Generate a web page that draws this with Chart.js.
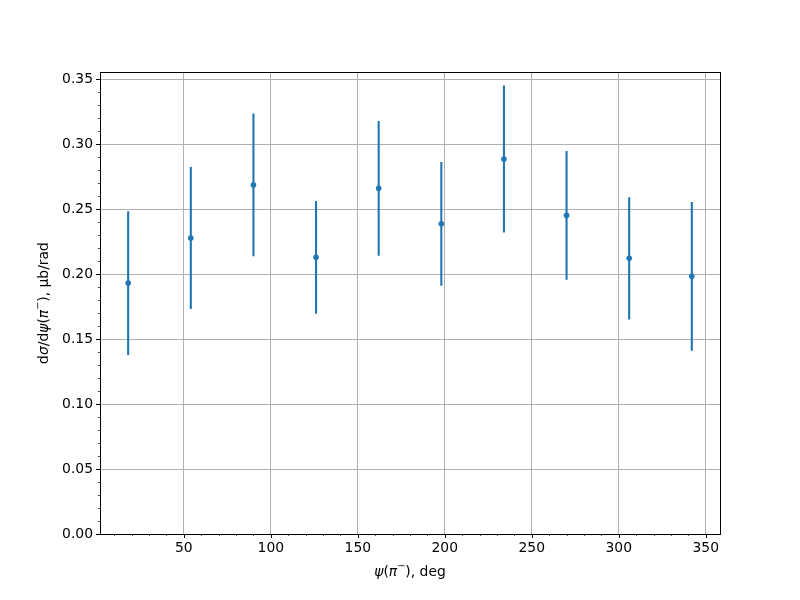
<!DOCTYPE html>
<html>
<head>
<meta charset="utf-8">
<script src="https://cdn.jsdelivr.net/npm/chart.js@4.4.0/dist/chart.umd.min.js"></script>
<style>
  body { margin: 0; background: #fff; }
  canvas { display: block; }
</style>
</head>
<body>
<canvas id="chart" width="800" height="600"></canvas>
<script>
// --- Data ---
const psi = [18, 54, 90, 126, 162, 198, 234, 270, 306, 342];
const dsigma = [0.1930, 0.2277, 0.2685, 0.2128, 0.2659, 0.2386, 0.2885, 0.2451, 0.2121, 0.1982];
const dsigmaErr = [0.0553, 0.0546, 0.0549, 0.0434, 0.0518, 0.0476, 0.0565, 0.0495, 0.0470, 0.0572];
const xMajorTicks = [50, 100, 150, 200, 250, 300, 350];
const yMajorTicks = [0.00, 0.05, 0.10, 0.15, 0.20, 0.25, 0.30, 0.35];

// axis titles as pieces: [text, style]  (style: '' roman, 'i' italic, 's' superscript)
const xTitle = [['ψ', 'i'], ['(', ''], ['π', 'i'], ['−', 's'], ['), deg', '']];
const yTitle = [['d', ''], ['σ', 'i'], ['/d', ''], ['ψ', 'i'], ['(', ''], ['π', 'i'], ['−', 's'], ['), μb/rad', '']];

const BLUE = '#1f77b4';
const GRID = '#b0b0b0';
const FONT = 'DejaVu Sans';
const FS = 13.9;

// error bar segments, separated by gaps
const errSegments = [];
psi.forEach((x, i) => {
  errSegments.push({ x: x, y: dsigma[i] - dsigmaErr[i] });
  errSegments.push({ x: x, y: dsigma[i] + dsigmaErr[i] });
  errSegments.push({ x: x, y: null });
});

const isMajorX = v => xMajorTicks.includes(Math.round(v));
const isMajorY = v => yMajorTicks.some(t => Math.abs(t - v) < 1e-9);

function pieceFont(style) {
  if (style === 'i') return 'italic ' + FS + 'px "' + FONT + '"';
  if (style === 's') return (FS * 0.7).toFixed(1) + 'px "' + FONT + '"';
  return FS + 'px "' + FONT + '"';
}

// draws a title centred on (0,0) of the current transform
function drawPieces(ctx, pieces) {
  let total = 0;
  pieces.forEach(p => { ctx.font = pieceFont(p[1]); total += ctx.measureText(p[0]).width; });
  let x = -total / 2;
  ctx.textBaseline = 'middle';
  ctx.textAlign = 'left';
  pieces.forEach(p => {
    ctx.font = pieceFont(p[1]);
    const dy = p[1] === 's' ? -FS * 0.4 : 0;
    ctx.fillText(p[0], x, dy);
    x += ctx.measureText(p[0]).width;
  });
}

// frame, major/minor tick marks and axis titles like matplotlib
const axisDecor = {
  id: 'axisDecor',
  afterDraw(chart) {
    const { ctx, chartArea: a, scales: { x, y } } = chart;
    ctx.save();
    ctx.strokeStyle = '#000';
    x.ticks.forEach(t => {
      const px = Math.round(x.getPixelForValue(t.value)) + 0.5;
      const major = isMajorX(t.value);
      ctx.lineWidth = major ? 1 : 0.7;
      ctx.beginPath();
      ctx.moveTo(px, a.bottom);
      ctx.lineTo(px, a.bottom + (major ? 4 : 2));
      ctx.stroke();
    });
    y.ticks.forEach(t => {
      const py = Math.round(y.getPixelForValue(t.value)) + 0.5;
      const major = isMajorY(t.value);
      ctx.lineWidth = major ? 1 : 0.7;
      ctx.beginPath();
      ctx.moveTo(a.left, py);
      ctx.lineTo(a.left - (major ? 4 : 2), py);
      ctx.stroke();
    });
    ctx.lineWidth = 1;
    ctx.strokeRect(Math.round(a.left) + 0.5, Math.round(a.top) + 0.5,
                   Math.round(a.right - a.left), Math.round(a.bottom - a.top));

    ctx.fillStyle = '#000';
    ctx.save();
    ctx.translate((a.left + a.right) / 2, 572);
    drawPieces(ctx, xTitle);
    ctx.restore();
    ctx.save();
    ctx.translate(44, (a.top + a.bottom) / 2);
    ctx.rotate(-Math.PI / 2);
    drawPieces(ctx, yTitle);
    ctx.restore();
    ctx.restore();
  }
};

new Chart(document.getElementById('chart'), {
  type: 'scatter',
  data: {
    datasets: [
      {
        data: psi.map((x, i) => ({ x: x, y: dsigma[i] })),
        backgroundColor: BLUE,
        borderColor: BLUE,
        pointRadius: 2.8,
        borderWidth: 0
      },
      {
        data: errSegments,
        showLine: true,
        spanGaps: false,
        borderColor: BLUE,
        borderWidth: 2.1,
        pointRadius: 0,
        borderCapStyle: 'butt'
      }
    ]
  },
  options: {
    responsive: false,
    animation: false,
    layout: { padding: { left: 0, right: 80, top: 72, bottom: 0 } },
    plugins: { legend: { display: false }, tooltip: { enabled: false } },
    scales: {
      x: {
        type: 'linear',
        min: 1.8,
        max: 358.2,
        afterBuildTicks: s => {
          const t = [];
          for (let v = 10; v <= 350; v += 10) t.push({ value: v });
          s.ticks = t;
        },
        afterFit: s => { s.height = 66; },
        border: { display: false },
        grid: {
          drawTicks: false,
          lineWidth: 1,
          color: c => (c.tick && isMajorX(c.tick.value)) ? GRID : 'rgba(0,0,0,0)'
        },
        ticks: {
          autoSkip: false,
          maxRotation: 0,
          padding: 6,
          color: '#000',
          font: { family: FONT, size: FS },
          callback: v => isMajorX(v) ? String(Math.round(v)) : ''
        }
      },
      y: {
        type: 'linear',
        min: 0,
        max: 0.3554,
        afterBuildTicks: s => {
          const t = [];
          for (let i = 0; i <= 35; i++) t.push({ value: i / 100 });
          s.ticks = t;
        },
        afterFit: s => { s.width = 100; },
        border: { display: false },
        grid: {
          drawTicks: false,
          lineWidth: 1,
          color: c => (c.tick && isMajorY(c.tick.value)) ? GRID : 'rgba(0,0,0,0)'
        },
        ticks: {
          autoSkip: false,
          padding: 7,
          color: '#000',
          font: { family: FONT, size: FS },
          callback: v => isMajorY(v) ? v.toFixed(2) : ''
        }
      }
    }
  },
  plugins: [axisDecor]
});
</script>
</body>
</html>
